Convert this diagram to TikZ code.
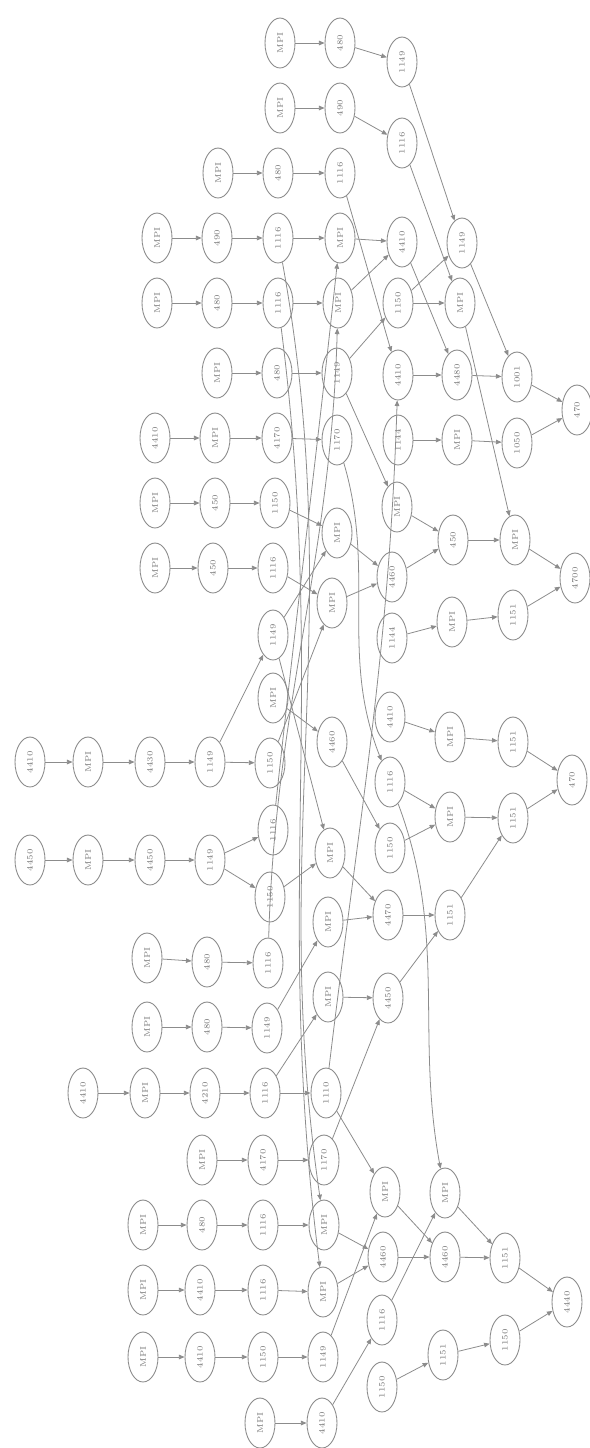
\documentclass[tikz,border=0pt]{standalone}
\usepackage{tikz}
\usetikzlibrary{shapes.geometric,arrows.meta}
\definecolor{ScanGray}{RGB}{140,140,140}
\definecolor{InkGray}{RGB}{120,120,120}
\tikzset{
	v/.style={ellipse,draw=ScanGray,fill=white,line width=0.5pt,minimum width=1cm,
		minimum height=0.6cm,inner sep=0pt,rotate=90,text=InkGray,font=\fontsize{4.6}{5}\selectfont},
	dep/.style={draw=ScanGray,line width=0.45pt,-{Triangle[length=3.2pt,width=2.6pt]}},
}
\begin{document}
\begin{tikzpicture}[x=0.02cm,y=-0.02cm]
\useasboundingbox[fill=white] (0,0) rectangle (590,1448);
% nodes, name/x/y/label
\foreach \n/\px/\py/\lab in {
	a5/280/43/MPI, a6/340/43/480, a7/402/62/1149,
	b5/280/108/MPI, b6/340/108/490, b7/402/143/1116,
	c4/218/173/MPI, c5/278/173/480, c6/340/173/1116,
	d3/157/238/MPI, d4/217/238/490, d5/278/238/1116, d6/340/238/MPI, d7/402/242/4410, d8/462/243/1149,
	e3/157/303/MPI, e4/217/303/480, e5/278/303/1116, e6/338/303/MPI, e7/398/303/1150, e8/460/303/MPI,
	f4/217/373/MPI, f5/277/373/480, f6/337/373/1149, f7/398/375/4410, f8/457/375/4480, f9/517/377/1001,
	g3/155/438/4410, g4/215/438/MPI, g5/277/438/4170, g6/337/440/1170, g7/398/440/1144, g8/457/440/MPI, g9/517/443/1050,
	out1/577/410/470,
	h3/155/503/MPI, h4/215/503/450, h5/275/503/1150, h7/397/507/MPI,
	i6/337/533/MPI, i8/453/540/450, i9/515/540/MPI, out2/575/578/4700,
	j3/155/568/MPI, j4/213/568/450, j5/273/568/1116, j7/392/577/4460,
	k6/332/603/MPI,
	l5/273/635/1149, l7/392/638/1144, l8/452/622/MPI, l9/513/615/1151,
	m5/273/698/MPI, m6/332/742/4460, m7/390/717/4410, m8/450/737/MPI, m9/513/742/1151, out3/572/780/470,
	n1/30/762/4410, n2/88/762/MPI, n3/150/762/4430, n4/210/762/1149, n5/270/763/1150,
	n7/390/782/1116, n8/450/817/MPI, n9/513/818/1151, o7/390/848/1150,
	p1/30/860/4450, p2/88/860/MPI, p3/150/860/4450, p4/210/860/1149, p5/273/830/1116,
	q5/270/897/1150, p6/330/853/MPI, p7/388/915/4470, p8/450/915/1151,
	r2/147/958/MPI, r3/207/962/480, r4/268/963/1116, r6/328/922/MPI,
	s2/147/1027/MPI, s3/207/1027/480, s4/267/1028/1149, s6/328/997/MPI, s7/388/998/4450,
	t1/83/1093/4410, t2/145/1093/MPI, t3/205/1093/4210, t4/265/1093/1116, t6/326/1093/1110,
	u3/202/1160/MPI, u4/263/1160/4170, u6/324/1160/1170,
	v2/143/1225/MPI, v3/202/1225/480, v4/263/1225/1116, v6/324/1225/MPI,
	x2/143/1290/MPI, x3/200/1290/4410, x4/263/1290/1116, x6/323/1292/MPI,
	y2/143/1357/MPI, y3/200/1357/4410, y4/263/1357/1150, y6/323/1357/1149,
	z4/260/1423/MPI, z6/322/1423/4410,
	w7/385/1192/MPI, wb7/383/1257/4460, y7/382/1320/1116, z7/382/1387/1150,
	w8/445/1193/MPI, x8/445/1257/4460, y8/443/1355/1151,
	x9/505/1258/1151, y9/505/1340/1150, out4/567/1302/4440}
	\node[v] (\n) at (\px,\py) {\lab};
% straight edges
\foreach \s/\e in {a5/a6,a6/a7,a7/d8,b5/b6,b6/b7,b7/e8,c4/c5,c5/c6,c6/f7,
	d3/d4,d4/d5,d5/d6,d6/d7,d7/f8,d8/f9,e3/e4,e4/e5,e5/e6,e6/d7,e7/d8,e7/e8,e8/i9,
	f4/f5,f5/f6,f6/e7,f6/h7,f7/f8,f8/f9,f9/out1,
	g3/g4,g4/g5,g5/g6,g7/g8,g8/g9,g9/out1,
	h3/h4,h4/h5,h5/i6,h7/i8,j7/i8,i8/i9,i9/out2,
	j3/j4,j4/j5,j5/k6,k6/j7,i6/j7,
	l5/i6,l5/p6,l7/l8,l8/l9,l9/out2,
	m5/m6,m6/o7,m7/m8,m8/m9,m9/out3,
	n1/n2,n2/n3,n3/n4,n4/l5,n4/n5,n5/k6,n7/n8,o7/n8,n8/n9,n9/out3,
	p1/p2,p2/p3,p3/p4,p4/p5,p4/q5,q5/p6,p6/p7,r6/p7,p7/p8,s7/p8,p8/n9,
	r2/r3,r3/r4,s2/s3,s3/s4,s4/r6,s6/s7,t4/s6,
	t1/t2,t2/t3,t3/t4,t4/t6,t6/w7,u3/u4,u4/u6,u6/s7,
	v2/v3,v3/v4,v4/v6,v6/wb7,x2/x3,x3/x4,x4/x6,x6/wb7,
	y2/y3,y3/y4,y4/y6,y6/w7,z4/z6,z6/y7,
	y7/w8,w7/x8,wb7/x8,w8/x9,x8/x9,x9/out4,z7/y8,y8/y9,y9/out4}
	\draw[dep] (\s)--(\e);
% long edges
\draw[dep] (e5) to[out=-85,in=95] (x6);
\draw[dep] (d5) to[out=-82,in=96] (v6);
\draw[dep] (r4) to[out=85,in=-95] (e6);
\draw[dep] (p5) to[out=80,in=-100] (d6);
\draw[dep] (t6) to[out=80,in=-95] (f7);
\draw[dep] (g6) to[out=-80,in=105] (n7);
\draw[dep] (n7) to[out=-75,in=95] (w8);
\end{tikzpicture}
\end{document}
